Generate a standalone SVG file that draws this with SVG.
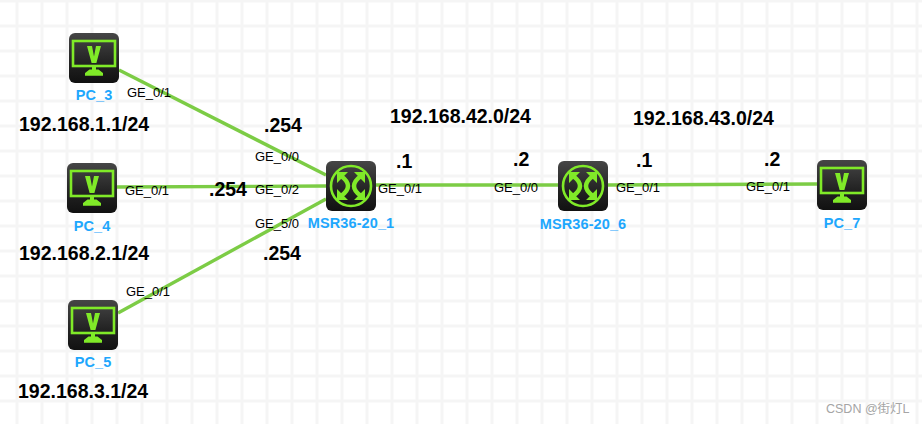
<svg xmlns="http://www.w3.org/2000/svg" width="922" height="424" viewBox="0 0 922 424">
<style>
.g{stroke:#f5f5f5;stroke-width:3;fill:none}
.c{stroke:#7ccc45;stroke-width:3.4;fill:none}
.b{fill:url(#bd)}
.i{stroke:#80ea28;fill:none;stroke-width:2.6}
.f{fill:#80ea28}
.a{stroke:#80ea28;fill:none;stroke-width:4.5}
text{font-family:"Liberation Sans",Arial,sans-serif}
.p{font-size:13px;fill:#000}
.n{font-size:14.5px;font-weight:bold;fill:#1ea7fd;letter-spacing:.1px}
.t{font-size:19.5px;font-weight:bold;fill:#000}
.w{font-size:12.5px;fill:#a5a5a5;font-family:"Liberation Sans","Noto Sans CJK SC",sans-serif}
</style>
<defs>
<linearGradient id="bd" x1="0" y1="0" x2="0" y2="1"><stop offset="0" stop-color="#464646"/><stop offset=".6" stop-color="#222"/><stop offset="1" stop-color="#111"/></linearGradient>
<g id="pc">
<rect class="b" x="0" y="0" width="50" height="50" rx="6"/>
<rect class="i" x="4" y="8" width="42" height="25"/>
<path class="f" d="M18 13h5l2 10.500 2-10.500h5l-4.600 17h-4.800z"/>
<path class="f" d="M23 34h4v2.500h2.500l4.500 3.500v2.700H16V40l4.500-3.500h2.500z"/>
</g>
<g id="rt">
<rect class="b" x="0" y="0" width="50" height="50" rx="6"/>
<circle class="i" cx="25" cy="25" r="20"/>
<path class="a" d="M15 15Q29 25 15 35M35 15Q21 25 35 35"/>
<path class="f" d="M11 11h11l-11 11zM39 11h-11l11 11zM11 39h11l-11-11zM39 39h-11l11-11z"/>
</g>
</defs>
<rect width="922" height="424" fill="#fff"/>
<path class="g" d="M17 0V424M42 0V424M67 0V424M92 0V424M117 0V424M142 0V424M167 0V424M192 0V424M217 0V424M242 0V424M267 0V424M292 0V424M317 0V424M342 0V424M367 0V424M392 0V424M417 0V424M442 0V424M467 0V424M492 0V424M517 0V424M542 0V424M567 0V424M592 0V424M617 0V424M642 0V424M667 0V424M692 0V424M717 0V424M742 0V424M767 0V424M792 0V424M817 0V424M842 0V424M867 0V424M892 0V424M917 0V424"/>
<path class="g" d="M0 1H922M0 26H922M0 51H922M0 76H922M0 101H922M0 126H922M0 151H922M0 176H922M0 201H922M0 226H922M0 251H922M0 276H922M0 301H922M0 326H922M0 351H922M0 376H922M0 401H922"/>
<g id="connectors">
<path class="c" d="M119 70L326 175"/>
<path class="c" d="M117 187L326 186"/>
<path class="c" d="M118 313L326 199"/>
<path class="c" d="M376 185L558 185"/>
<path class="c" d="M608 185L817 184"/>
</g>
<g id="PC_3"><use href="#pc" x="69" y="33"/><text class="n" x="94" y="100" text-anchor="middle">PC_3</text></g>
<g id="PC_4"><use href="#pc" x="67" y="163"/><text class="n" x="92" y="231" text-anchor="middle">PC_4</text></g>
<g id="PC_5"><use href="#pc" x="68" y="300"/><text class="n" x="93" y="367" text-anchor="middle">PC_5</text></g>
<g id="PC_7"><use href="#pc" x="817" y="160"/><text class="n" x="842" y="228" text-anchor="middle">PC_7</text></g>
<g id="MSR36-20_1"><use href="#rt" x="326" y="161"/><text class="n" x="351" y="228" text-anchor="middle">MSR36-20_1</text></g>
<g id="MSR36-20_6"><use href="#rt" x="558" y="161"/><text class="n" x="583" y="229" text-anchor="middle">MSR36-20_6</text></g>
<g id="labels">
<text class="p" x="127" y="97">GE_0/1</text>
<text class="p" x="125" y="195">GE_0/1</text>
<text class="p" x="126" y="296">GE_0/1</text>
<text class="p" x="255" y="161">GE_0/0</text>
<text class="p" x="255" y="194">GE_0/2</text>
<text class="p" x="255" y="228">GE_5/0</text>
<text class="p" x="378" y="193">GE_0/1</text>
<text class="p" x="494" y="192">GE_0/0</text>
<text class="p" x="616" y="192">GE_0/1</text>
<text class="p" x="746" y="191">GE_0/1</text>
<text class="t" x="19" y="131">192.168.1.1/24</text>
<text class="t" x="19" y="260">192.168.2.1/24</text>
<text class="t" x="18" y="398">192.168.3.1/24</text>
<text class="t" x="264" y="132">.254</text>
<text class="t" x="209" y="196">.254</text>
<text class="t" x="263" y="260">.254</text>
<text class="t" x="390" y="123">192.168.42.0/24</text>
<text class="t" x="633" y="125">192.168.43.0/24</text>
<text class="t" x="396" y="168">.1</text>
<text class="t" x="513" y="166">.2</text>
<text class="t" x="636" y="167">.1</text>
<text class="t" x="764" y="166">.2</text>
<text class="w" x="826" y="413">CSDN @街灯L</text>
</g>
</svg>
